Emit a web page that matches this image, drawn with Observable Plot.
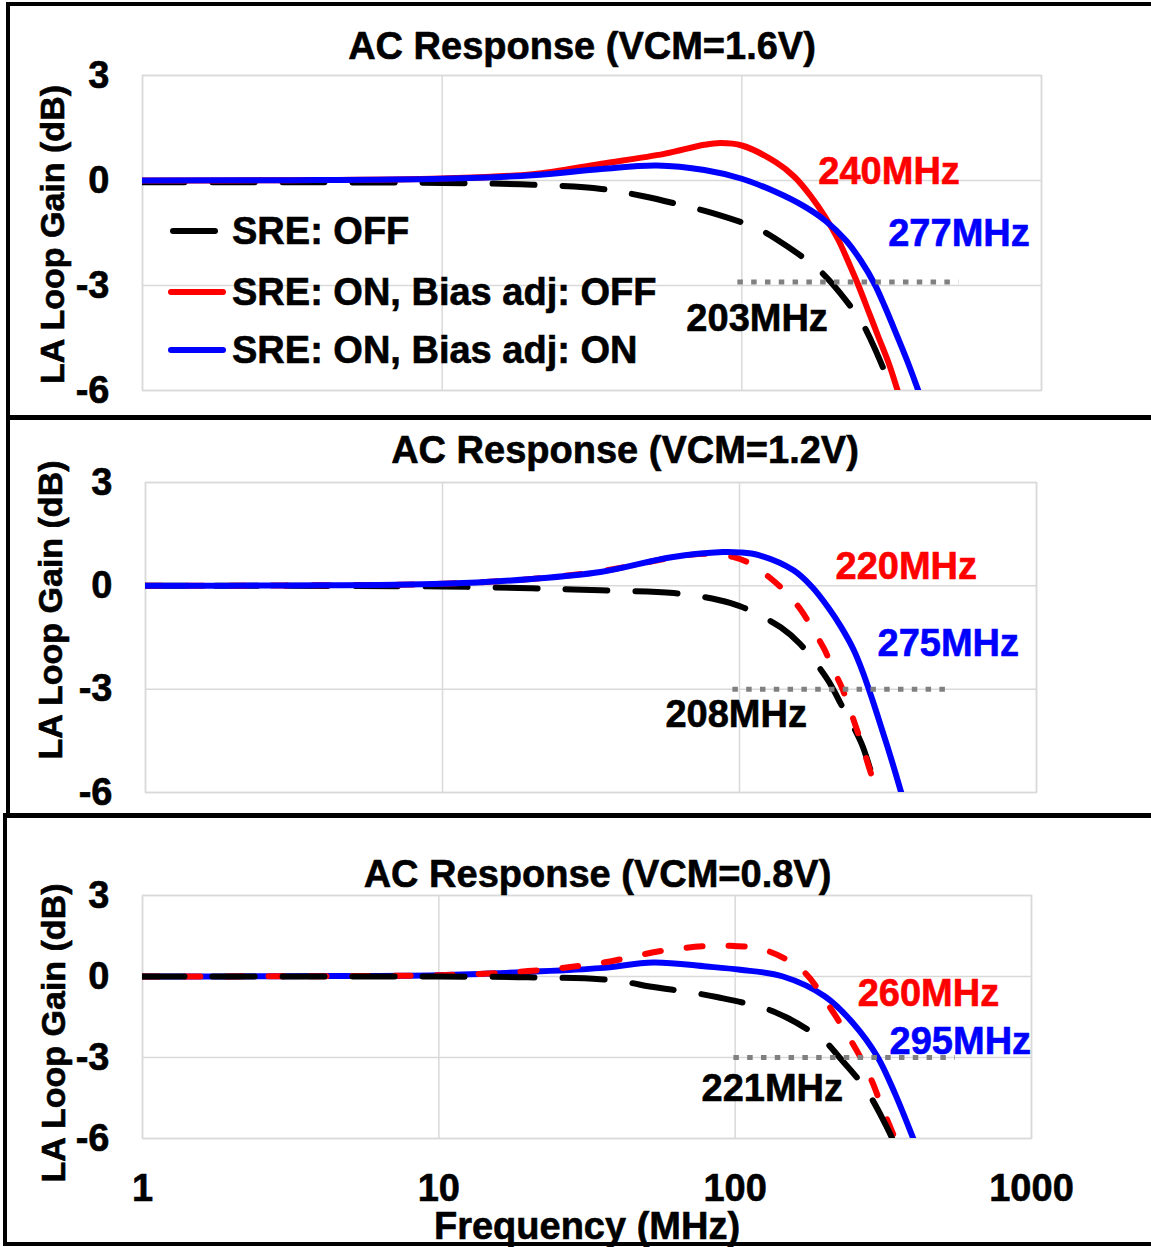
<!DOCTYPE html>
<html>
<head>
<meta charset="utf-8">
<script src="https://cdn.jsdelivr.net/npm/d3@7"></script>
<script src="https://cdn.jsdelivr.net/npm/@observablehq/plot@0.6"></script>
<style>
  body { margin: 0; background: #fff; }
  #page { position: relative; width: 1151px; height: 1247px; overflow: hidden; background: #fff;
          font-family: "Liberation Sans", Arial, sans-serif; font-weight: bold; }
  .panel { position: absolute; border: 4px solid #000; box-sizing: border-box; }
  .chart { position: absolute; left: 0; }
  .legend-row { position: absolute; display: flex; align-items: center; height: 60px;
                font-size: 38px; white-space: nowrap; color: #000; -webkit-text-stroke: 0.6px #000; }
  .sw { display: inline-block; height: 6px; border-radius: 3px; }
</style>
</head>
<body>
<div id="page"></div>
<script>
// ---------------- DATA ----------------
const seriesNames  = ["SRE: OFF", "SRE: ON, Bias adj: OFF", "SRE: ON, Bias adj: ON"];
const seriesColors = ["#000000", "#ff0000", "#0000ff"];
const panelTitles  = ["AC Response (VCM=1.6V)", "AC Response (VCM=1.2V)", "AC Response (VCM=0.8V)"];
const yTicks = [3, 0, -3, -6];
const xTicks = [1, 10, 100, 1000];
const yLabel = "LA Loop Gain (dB)";
const xLabel = "Frequency (MHz)";

// VCM = 1.6 V
const vcm16FreqOff = [1, 3, 10, 20, 34, 47, 67, 80, 112, 130, 175, 198, 249, 270, 313, 350];
const vcm16GainOff = [-0.05, -0.05, -0.07, -0.12, -0.24, -0.45, -0.76, -0.93, -1.36, -1.67, -2.45, -2.9, -4.0, -4.57, -5.86, -7.0];
const vcm16FreqOnBiasOff = [1, 3, 10, 20, 34, 55, 75, 85, 100, 130, 150, 170, 190, 210, 230, 245, 265, 285, 310, 331, 370];
const vcm16GainOnBiasOff = [0, 0.01, 0.06, 0.18, 0.48, 0.76, 1.02, 1.07, 1.0, 0.52, 0.1, -0.45, -1.05, -1.7, -2.45, -3.0, -3.75, -4.45, -5.25, -6.0, -7.3];
const vcm16FreqOnBiasOn = [1, 3, 10, 20, 34, 52, 75, 100, 130, 160, 190, 223, 250, 277, 300, 330, 360, 388, 420];
const vcm16GainOnBiasOn = [0, 0.01, 0.05, 0.15, 0.33, 0.43, 0.3, 0.05, -0.33, -0.72, -1.15, -1.72, -2.3, -2.95, -3.6, -4.45, -5.25, -6.0, -6.8];

// VCM = 1.2 V
const vcm12FreqOff = [1, 3, 10, 20, 34, 60, 85, 101, 138, 160, 198, 217, 257, 275, 293, 330];
const vcm12GainOff = [0, 0, -0.02, -0.07, -0.13, -0.21, -0.41, -0.6, -1.21, -1.69, -2.72, -3.35, -4.56, -5.3, -6.06, -7.4];
const vcm12FreqOnBiasOff = [1, 3, 10, 20, 34, 50, 65, 80, 95, 109, 126, 141, 161, 175, 193, 206, 221, 249, 276, 290, 320];
const vcm12GainOnBiasOff = [0, 0.01, 0.06, 0.2, 0.42, 0.7, 0.88, 0.93, 0.84, 0.64, 0.25, -0.13, -0.7, -1.21, -1.84, -2.4, -2.95, -4.2, -5.4, -6.0, -7.2];
const vcm12FreqOnBiasOn = [1, 3, 10, 20, 34, 59, 88, 100, 116, 152, 175, 199, 220, 242, 260, 280, 300, 325, 349, 380];
const vcm12GainOnBiasOn = [0, 0.01, 0.06, 0.2, 0.4, 0.83, 0.98, 0.97, 0.89, 0.45, -0.02, -0.63, -1.2, -1.85, -2.5, -3.3, -4.1, -5.05, -5.95, -7.0];

// VCM = 0.8 V
const vcm08FreqOff = [1, 3, 10, 20, 35, 43.5, 51.5, 74, 87.5, 126, 148, 175, 203, 225, 260, 288, 312, 339, 370];
const vcm08GainOff = [0, 0, 0, -0.03, -0.1, -0.22, -0.37, -0.62, -0.77, -1.18, -1.5, -1.95, -2.45, -3.0, -3.8, -4.5, -5.2, -6.0, -7.0];
const vcm08FreqOnBiasOff = [1, 3, 10, 20, 35, 60, 96, 130, 170, 201, 230, 264, 290, 312, 346, 380];
const vcm08GainOnBiasOff = [0, 0.01, 0.05, 0.2, 0.5, 0.99, 1.14, 0.93, 0.19, -0.87, -1.86, -2.97, -3.9, -4.8, -6.0, -7.2];
const vcm08FreqOnBiasOn = [1, 3, 10, 20, 35, 53, 80, 104, 145, 201, 250, 302, 346, 399, 440];
const vcm08GainOnBiasOn = [0, 0.01, 0.05, 0.17, 0.31, 0.52, 0.37, 0.25, 0, -0.74, -1.73, -2.97, -4.33, -6.0, -7.2];

// -3 dB reference segments (MHz, dB)
const refStart = [97, 95, 99];
const refEnd   = [530, 525, 553];
const refLevel = [-2.9, -3, -3];

// bandwidth annotations: [off, on/biasOff, on/biasOn] per panel
const bwTexts = [["203MHz", "240MHz", "277MHz"], ["208MHz", "220MHz", "275MHz"], ["221MHz", "260MHz", "295MHz"]];
const bwFreq  = [[65.3, 180, 308], [56.3, 210.5, 291.5], [77, 259, 332]];
const bwGain  = [[-3.94, 0.26, -1.51], [-3.74, 0.54, -1.67], [-4.17, -0.64, -2.43]];

// ---------------- LAYOUT (not data) ----------------
const panelData = [
  [[vcm16FreqOff, vcm16GainOff], [vcm16FreqOnBiasOff, vcm16GainOnBiasOff], [vcm16FreqOnBiasOn, vcm16GainOnBiasOn]],
  [[vcm12FreqOff, vcm12GainOff], [vcm12FreqOnBiasOff, vcm12GainOnBiasOff], [vcm12FreqOnBiasOn, vcm12GainOnBiasOn]],
  [[vcm08FreqOff, vcm08GainOff], [vcm08FreqOnBiasOff, vcm08GainOnBiasOff], [vcm08FreqOnBiasOn, vcm08GainOnBiasOn]]
];
const layout = [
  {top: 0,   height: 413, mt: 75, mb: 23,  ml: 142, mr: 110, redDash: false, order: [0, 1, 2],
   tdx: -10, tdy: -28.5, ldx: -89, ldy: 1.5, showX: false},
  {top: 415, height: 400, mt: 67, mb: 23,  ml: 145, mr: 115, redDash: true,  order: [0, 1, 2],
   tdx: 34, tdy: -31.5, ldx: -94, ldy: -27.5, showX: false},
  {top: 815, height: 432, mt: 80, mb: 109, ml: 142, mr: 120, redDash: true,  order: [2, 1, 0],
   tdx: 10.5, tdy: -20.5, ldx: -88, ldy: 16, showX: true}
];
const boxes = [
  {left: 6, top: 2, height: 418},
  {left: 6, top: 415, height: 403},
  {left: 3, top: 813, height: 433}
];

const FONT = "'Liberation Sans', Arial, sans-serif";
const gridStyle = {stroke: "#d9d9d9", strokeOpacity: 1, strokeWidth: 1.5};
const textBold = {fontWeight: "bold", strokeWidth: 0.6, paintOrder: "normal"};
const page = document.getElementById("page");

layout.forEach((L, p) => {
  const marks = [
    Plot.gridX(xTicks, gridStyle),
    Plot.gridY(yTicks, gridStyle),
    Plot.frame({stroke: "#d9d9d9", strokeWidth: 1.5})
  ];
  L.order.forEach(s => {
    const [fr, gn] = panelData[p][s];
    const table = fr.map((f, i) => ({f, g: gn[i]}));
    let dash = null;
    if (s === 0) dash = "42,28";
    else if (s === 1 && L.redDash) dash = "16,26";
    marks.push(Plot.line(table, {
      x: "f", y: "g", stroke: seriesColors[s], strokeWidth: 6,
      strokeDasharray: dash, strokeLinecap: "round", strokeLinejoin: "round",
      curve: "catmull-rom", clip: true
    }));
  });
  marks.push(Plot.ruleY([p], {
    y: j => refLevel[j], x1: j => refStart[j], x2: j => refEnd[j],
    stroke: "#808080", strokeWidth: 5, strokeDasharray: "5.5,8.3"
  }));
  marks.push(Plot.text([0, 1, 2], {
    x: s => bwFreq[p][s], y: s => bwGain[p][s], text: s => bwTexts[p][s],
    fill: s => seriesColors[s], stroke: s => seriesColors[s], ...textBold,
    textAnchor: "start", lineAnchor: "middle", fontSize: 38
  }));
  marks.push(Plot.axisY({ticks: yTicks, tickSize: 0, tickPadding: 33, tickFormat: d => String(d),
    label: null, fontSize: 38, fontWeight: "bold"}));
  marks.push(Plot.text([yLabel], {frameAnchor: "left", text: d => d, rotate: -90, textAnchor: "middle",
    lineAnchor: "middle", dx: L.ldx, dy: L.ldy, fontSize: 34, fill: "#000", stroke: "#000", ...textBold}));
  marks.push(Plot.text([panelTitles[p]], {frameAnchor: "top", text: d => d, textAnchor: "middle",
    lineAnchor: "middle", dx: L.tdx, dy: L.tdy, fontSize: 38, fill: "#000", stroke: "#000", ...textBold}));
  if (L.showX) {
    marks.push(Plot.axisX({ticks: xTicks, tickSize: 0, tickPadding: 36, tickFormat: d => String(d),
      label: null, fontSize: 38, fontWeight: "bold"}));
    marks.push(Plot.text([xLabel], {frameAnchor: "bottom", text: d => d, textAnchor: "middle",
      lineAnchor: "middle", dy: 88.5, fontSize: 38, fill: "#000", stroke: "#000", ...textBold}));
  }
  const svg = Plot.plot({
    width: 1151, height: L.height,
    marginTop: L.mt, marginBottom: L.mb, marginLeft: L.ml, marginRight: L.mr,
    x: {type: "log", domain: [1, 1000], axis: null},
    y: {domain: [-6, 3], axis: null},
    style: {background: "transparent", fontFamily: FONT, fontWeight: "bold", fontSize: "38px", color: "#000"},
    marks
  });
  // thicken axis tick labels slightly, like the reference's heavy bold face
  svg.querySelectorAll("g[aria-label$='tick label'] text").forEach(t => {
    t.setAttribute("stroke", "#000");
    t.setAttribute("stroke-width", "0.6");
  });
  const wrap = document.createElement("div");
  wrap.className = "chart";
  wrap.style.top = L.top + "px";
  wrap.appendChild(svg);
  page.appendChild(wrap);
});

// panel borders
boxes.forEach(b => {
  const d = document.createElement("div");
  d.className = "panel";
  d.style.left = b.left + "px";
  d.style.top = b.top + "px";
  d.style.width = "1200px";
  d.style.height = b.height + "px";
  page.appendChild(d);
});

// legend (panel 1)
const legendCenters = [231, 292, 350];
seriesNames.forEach((name, s) => {
  const row = document.createElement("div");
  row.className = "legend-row";
  row.style.left = (s === 0 ? 170 : 168) + "px";
  row.style.top = (legendCenters[s] - 30) + "px";
  const sw = document.createElement("span");
  sw.className = "sw";
  sw.style.background = seriesColors[s];
  sw.style.width = (s === 0 ? 48 : 58) + "px";
  sw.style.marginRight = (s === 0 ? 14 : 6) + "px";
  const tx = document.createElement("span");
  tx.textContent = name;
  row.appendChild(sw);
  row.appendChild(tx);
  page.appendChild(row);
});
</script>
</body>
</html>
